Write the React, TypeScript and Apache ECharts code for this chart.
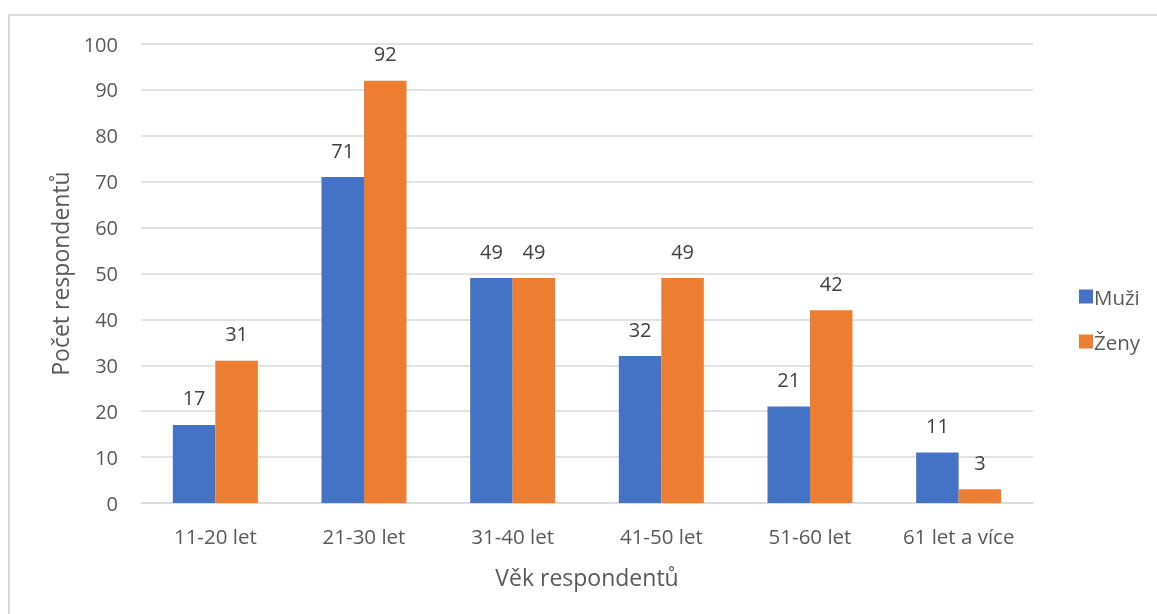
import React, { useEffect, useRef } from "react";
import * as echarts from "echarts";

const categories = ["11-20 let", "21-30 let", "31-40 let", "41-50 let", "51-60 let", "61 let a více"];
const muzi = [17, 71, 49, 32, 21, 11];
const zeny = [31, 92, 49, 49, 42, 3];
const seriesNames = ["Muži", "Ženy"];

const FONT = "'Open Sans', 'Noto Sans', sans-serif";
const TEXT = "#595959";
const GRID = "#d9d9d9";

export default function App() {
  const ref = useRef<HTMLDivElement>(null);

  useEffect(() => {
    document.body.style.overflow = "hidden";
    const chart = echarts.init(ref.current!, null, { renderer: "svg" });
    const label = {
      show: true,
      position: "top" as const,
      distance: 17,
      color: "#404040",
      fontSize: 20,
      fontFamily: FONT,
    };
    chart.setOption({
      animation: false,
      textStyle: { fontFamily: FONT },
      grid: { left: 141, right: 124, top: 44, bottom: 111, containLabel: false },
      legend: {
        orient: "vertical",
        left: 1074,
        top: 281,
        itemWidth: 14,
        itemHeight: 14,
        itemGap: 24,
        icon: "rect",
        data: seriesNames,
        textStyle: { color: TEXT, fontSize: 20.5, fontFamily: FONT, padding: [0, 0, 0, -4] },
      },
      xAxis: {
        type: "category",
        data: categories,
        name: "Věk respondentů",
        nameLocation: "middle",
        nameGap: 62,
        nameTextStyle: { color: TEXT, fontSize: 23, fontFamily: FONT },
        axisLine: { show: true, lineStyle: { color: GRID, width: 1.5 } },
        axisTick: { show: false },
        axisLabel: { color: TEXT, fontSize: 20.5, fontFamily: FONT, margin: 22 },
      },
      yAxis: {
        type: "value",
        min: 0,
        max: 100,
        interval: 10,
        name: "Počet respondentů",
        nameLocation: "middle",
        nameGap: 70,
        nameTextStyle: { color: TEXT, fontSize: 23, fontFamily: FONT },
        axisLine: { show: false },
        axisTick: { show: false },
        axisLabel: { color: TEXT, fontSize: 20, fontFamily: FONT, margin: 23 },
        splitLine: { lineStyle: { color: GRID, width: 1.5 } },
      },
      series: [
        {
          name: seriesNames[0],
          type: "bar",
          data: muzi,
          barWidth: 42.5,
          barGap: "0%",
          itemStyle: { color: "#4472C4" },
          label,
        },
        {
          name: seriesNames[1],
          type: "bar",
          data: zeny,
          barWidth: 42.5,
          barGap: "0%",
          itemStyle: { color: "#ED7D31" },
          label,
        },
      ],
    });
    return () => chart.dispose();
  }, []);

  return (
    <>
      <div
        style={{
          position: "fixed",
          left: 8,
          top: 14,
          width: 1157,
          height: 614,
          borderTop: "2px solid #d9d9d9",
          borderLeft: "2px solid #d9d9d9",
          boxSizing: "border-box",
        }}
      />
      <div
        ref={ref}
        style={{ position: "fixed", left: 0, top: 0, width: 1157, height: 614 }}
      />
    </>
  );
}
